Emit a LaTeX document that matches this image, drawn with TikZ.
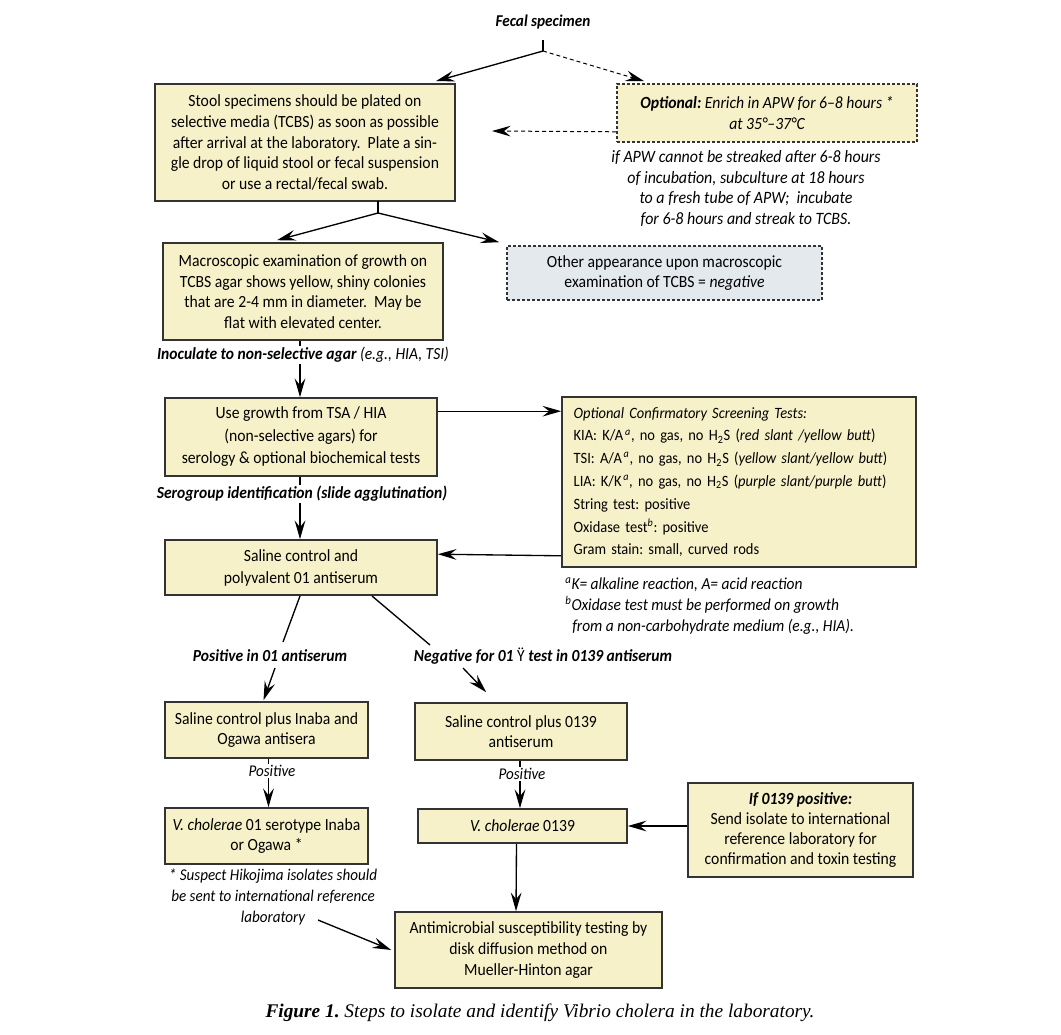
\documentclass[tikz,border=0pt]{standalone}
\usepackage{fontspec}
\setmainfont{Carlito}[FakeStretch=0.92]
\newfontfamily\capfont{Liberation Serif}
\usetikzlibrary{arrows.meta,calc}
\definecolor{boxfill}{HTML}{F7F1C9}
\definecolor{boxline}{HTML}{333333}
\definecolor{graybox}{HTML}{E3E9EC}
\frenchspacing
\begin{document}
\frenchspacing
\begin{tikzpicture}[x=0.75pt,y=-0.75pt,
  box/.style={draw=boxline, fill=boxfill, line width=1.2pt, inner sep=0pt, align=center,
    font=\fontsize{12.8}{15.4}\selectfont},
  bx/.style 2 args={minimum width=#1*0.75pt, minimum height=#2*0.75pt},
  dashbox/.style={dash pattern=on 2.25pt off 1.5pt},
  lbl/.style={font=\fontsize{12.7}{15.4}\selectfont\bfseries\itshape, inner sep=1pt, fill=white},
  note/.style={font=\fontsize{12.6}{15.4}\selectfont\itshape, align=center, inner sep=0pt},
  ln/.style={line width=1pt, draw=black},
  arr/.style={ln, -{Stealth[length=14pt,width=8pt,inset=5pt]}},
  darr/.style={arr, dash pattern=on 3pt off 2.25pt, line width=0.75pt}
]
\useasboundingbox (0,0) rectangle (1061,1035);

% nodes
\node[font=\fontsize{12.4}{15.4}\selectfont\bfseries\itshape, inner sep=1pt] (fecal) at (543,22) {Fecal specimen};

\node[box,bx={300}{117}] (stool) at (305,142.5) {Stool specimens should be plated on\\selective media (TCBS) as soon as possible\\after arrival at the laboratory.\ \ Plate a sin-\\gle drop of liquid stool or fecal suspension\\or use a rectal/fecal swab.};

\node[box,dashbox,bx={300}{58}, font=\fontsize{12.8}{15.4}\selectfont\itshape] (opt) at (767,113) {\textbf{Optional:} Enrich in APW for 6--8 hours *\\at 35°--37°C};

\node[note, font=\fontsize{13}{15.4}\selectfont\itshape] (optnote) at (746,188.5) {if APW cannot be streaked after 6-8 hours\\of incubation, subculture at 18 hours\\to a fresh tube of APW;\ \ incubate\\for 6-8 hours and streak to TCBS.};

\node[box,bx={280}{97}] (macro) at (303,291.5) {Macroscopic examination of growth on\\TCBS agar shows yellow, shiny colonies\\that are 2-4 mm in diameter.\ \ May be\\flat with elevated center.};

\node[box,dashbox,fill=graybox,bx={315}{54}] (other) at (664.5,273) {Other appearance upon macroscopic\\examination of TCBS = \textit{negative}};

\node[box,bx={272}{78}, font=\fontsize{12.8}{16.9}\selectfont] (tsa) at (301,437) {Use growth from TSA / HIA\\(non-selective agars) for\\serology \& optional biochemical tests};

\node[box,bx={354}{170}, text width=248pt, align=left, font=\fontsize{11.8}{17.1}\selectfont] (conf) at (739,482) {\textit{Optional Confirmatory Screening Tests:}\\
KIA: K/A\textsuperscript{\,\itshape a}, no gas, no H\textsubscript{2}S (\textit{red slant /yellow butt})\\
TSI: A/A\textsuperscript{\,\itshape a}, no gas, no H\textsubscript{2}S (\textit{yellow slant/yellow butt})\\
LIA: K/K\textsuperscript{\,\itshape a}, no gas, no H\textsubscript{2}S (\textit{purple slant/purple butt})\\
String test: positive\\
Oxidase test\textsuperscript{\itshape b}: positive\\
Gram stain: small, curved rods};

\node[box,bx={272}{55}, font=\fontsize{12.8}{16.5}\selectfont] (saline) at (301,567.5) {Saline control and\\polyvalent 01 antiserum};

\node[note, anchor=west, align=left, font=\fontsize{12.6}{15.75}\selectfont\itshape] (foot) at (565,606) {\textsuperscript{a}K= alkaline reaction, A= acid reaction\\\textsuperscript{b}Oxidase test must be performed on growth\\\ \ from a non-carbohydrate medium (e.g., HIA).};

\node[lbl, fill=none] (pos) at (270,656) {Positive in 01 antiserum};
\node[lbl, fill=none] (neg) at (543,656) {Negative for 01 {\normalfont\mdseries\upshape Ÿ} test in 0139 antiserum};

\node[box,bx={203}{56}] (inaba) at (266.5,730) {Saline control plus Inaba and\\Ogawa antisera};
\node[box,bx={212}{57}] (o139) at (521,731.5) {Saline control plus 0139\\antiserum};

\node[box,bx={203}{56}] (sero) at (266.5,836) {\textit{V. cholerae} 01 serotype Inaba\\or Ogawa *};
\node[box,bx={209}{34}] (vc139) at (522.5,826) {\textit{V. cholerae} 0139};
\node[box,bx={225}{94}, font=\fontsize{12.8}{15.2}\selectfont] (if139) at (800.5,830) {\textbf{\textit{If 0139 positive:}}\\Send isolate to international\\reference laboratory for\\confirmation and toxin testing};

\node[note, font=\fontsize{12.3}{15.75}\selectfont\itshape] (hiko) at (273,897) {* Suspect Hikojima isolates should\\be sent to international reference\\laboratory};

\node[box,bx={267}{76}] (anti) at (528.5,950) {Antimicrobial susceptibility testing by\\disk diffusion method on\\Mueller-Hinton agar};

\node[font=\fontsize{14.5}{16}\selectfont\capfont\itshape, inner sep=1pt] (cap) at (540,1013) {\textbf{Figure 1.} Steps to isolate and identify Vibrio cholera in the laboratory.};

% coordinates
\coordinate (j0) at (543,40);
\coordinate (j1) at (543,51);
\coordinate (optback) at (492,131);
\coordinate (s0) at (378,201);
\coordinate (j2) at (378,213);
\coordinate (p0) at (300,596);
\coordinate (p1) at (283,642);
\coordinate (p2) at (275,668);
\coordinate (n0) at (372,596);
\coordinate (n1) at (430,645);
\coordinate (n2) at (463,668);
\coordinate (h0) at (318,920);

% connectors
\draw[ln] (j0) -- (j1);
\draw[arr] (j1) -- ($(stool.north east)+(-20,-2)$);
\draw[darr] (j1) -- ($(opt.north west)+(28,-2)$);
\draw[darr] ($(opt.south west)+(0,-11)$) -- (optback);

\draw[ln] (s0) -- (j2);
\draw[arr] (j2) -- ($(macro.north)+(-26,-2)$);
\draw[arr] (j2) -- ($(other.north west)+(-7,-3)$);

\draw[arr] ($(macro.south)+(-3,0)$) -- ($(tsa.north)+(-1,0)$);
\node[lbl] (inoc) at (303,355) {Inoculate to non-selective agar {\mdseries(e.g., HIA, TSI)}};

\draw[arr] ($(tsa.north east)+(0,14)$) -- ($(conf.north west)+(0,15)$);

\draw[arr] ($(tsa.south)+(-1,0)$) -- ($(saline.north)+(-1,0)$);
\node[lbl] (serog) at (302,494) {Serogroup identification (slide agglutination)};

\draw[arr] ($(conf.south west)+(0,-12)$) -- ($(saline.north east)+(0,15)$);

\draw[ln] (p0) -- (p1);
\draw[ln] (n0) -- (n1);
\draw[arr] (p2) -- ($(inaba.north)+(-3,-1)$);
\draw[arr] (n2) -- ($(o139.north west)+(72,-10)$);

\draw[arr] ($(inaba.south)+(2,0)$) -- ($(sero.north)+(2,0)$);
\node[note, font=\fontsize{12.3}{12}\selectfont\itshape, fill=white, inner sep=1pt] (posA) at (272,771) {Positive};
\draw[arr] ($(o139.south)+(-1,0)$) -- ($(vc139.north)+(-2.5,0)$);
\node[note, font=\fontsize{12.3}{12}\selectfont\itshape, fill=white, inner sep=1pt] (posB) at (522,774) {Positive};

\draw[arr] (if139.west |- vc139.east) -- (vc139.east);
\draw[arr] ($(vc139.south)+(-6,0)$) -- ($(anti.north)+(-12.5,0)$);
\draw[arr] (h0) -- ($(anti.west)+(-3,0)$);
\end{tikzpicture}
\end{document}
